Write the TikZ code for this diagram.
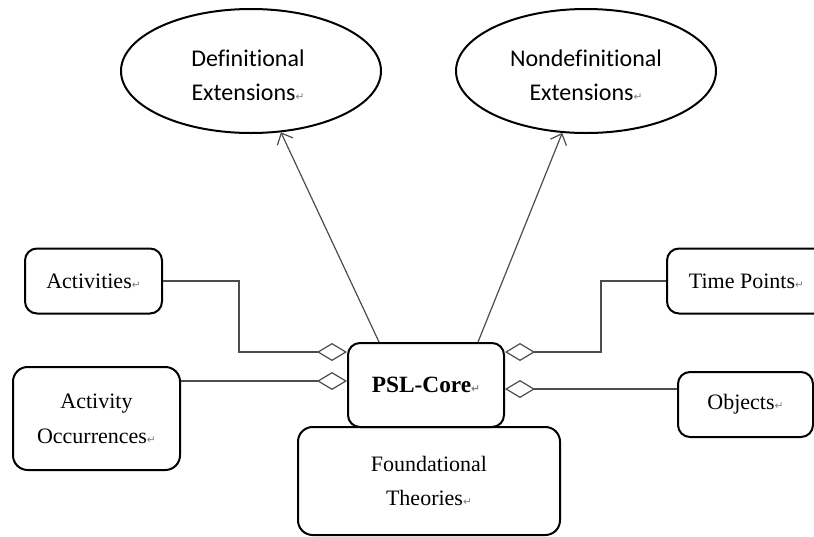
\documentclass[tikz,border=0pt]{standalone}
\usepackage{fontspec}
\setmainfont{Liberation Serif}
\newfontfamily\calfont[Ligatures=NoCommon]{Carlito}
\newfontfamily\dvfont{DejaVu Sans}
\usetikzlibrary{shapes.geometric,arrows.meta,calc}
\newcommand{\pmark}{{\dvfont\fontsize{8}{8}\selectfont\textcolor{gray}{↵}}}
\tikzset{
  box/.style={draw=black, line width=1.5pt, rounded corners=9pt, align=center, inner sep=0pt,
    font=\fontsize{16.5}{26}\selectfont},
  ell/.style={draw=black, line width=1.5pt, ellipse, align=center, inner sep=0pt,
    minimum width=195pt, minimum height=93pt, font=\calfont\fontsize{18}{25.5}\selectfont},
  conn/.style={draw=black!70, line width=0.9pt},
  agg/.style={conn, {Diamond[open, length=22.5pt, width=13.5pt, line width=0.9pt]}-},
  up/.style={conn, -{Straight Barb[length=7pt, width=13pt, line width=0.9pt]}}
}
\begin{document}
\begin{tikzpicture}[x=0.75pt, y=-0.75pt]
\useasboundingbox (0,0) rectangle (814,536);
\clip (0,0) rectangle (814,536);
\node[ell] (def) at (251,71) {};
\node at (248,75) [align=center, font=\calfont\fontsize{18}{25.5}\selectfont] (deft) {Definitional\\Extensions\pmark};
\node[ell] (ndef) at (586,71) {};
\node at (586,75) [align=center, font=\calfont\fontsize{18}{25.5}\selectfont] (ndeft) {Nondefinitional\\Extensions\pmark};
\node[box, minimum width=117pt, minimum height=63pt, font=\bfseries\fontsize{17.5}{26}\selectfont] (psl) at (426,385) {PSL-Core\pmark};
\node[box, minimum width=196.5pt, minimum height=81pt, rounded corners=11pt] (found) at (429,481) {Foundational\\Theories\pmark};
\node[box, minimum width=102.75pt, minimum height=48.75pt] (act) at (93.5,281) {Activities\pmark};
\node[box, minimum width=125.25pt, minimum height=77.25pt, rounded corners=11pt] (occ) at (96.5,418.5) {Activity\\Occurrences\pmark};
\node[box, minimum width=119.25pt, minimum height=48.75pt] (tp) at (746.5,281) {Time Points\pmark};
\node[box, minimum width=101.25pt, minimum height=48.75pt] (obj) at (745.5,404.5) {Objects\pmark};
% arrows to extensions
\draw[up] ($(psl.north west)+(32,0)$) -- (def.-64);
\draw[up] ($(psl.north east)+(-27,0)$) -- (ndef.-111);
% aggregations
\draw[agg] ($(psl.north west)+(0,10)$) -- ++(-108,0) |- (act.east);
\draw[agg] ($(psl.north west)+(0,39)$) coordinate (c1) -- (c1 -| occ.east);
\draw[agg] ($(psl.north east)+(0,10)$) -- ++(96,0) |- (tp.west);
\draw[agg] ($(psl.north east)+(0,47)$) coordinate (c2) -- (c2 -| obj.west);
\end{tikzpicture}
\end{document}
